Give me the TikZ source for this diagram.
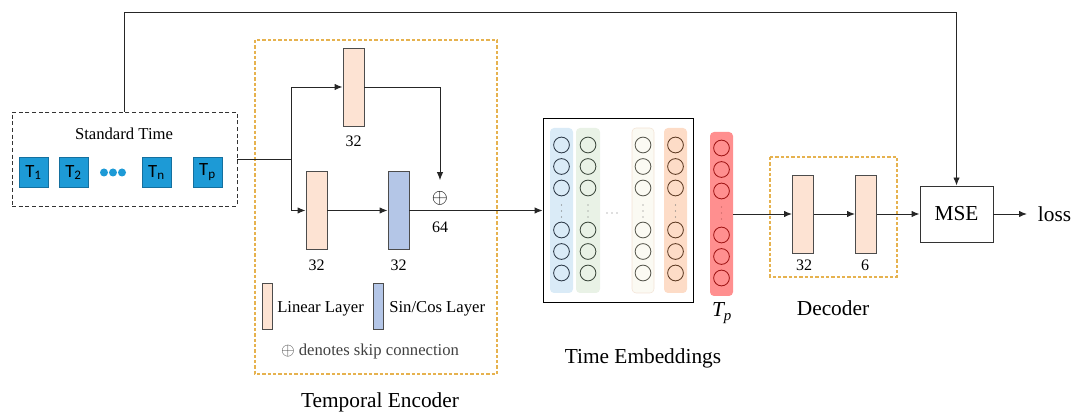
\documentclass[tikz,border=0pt]{standalone}
\usepackage{graphicx}
\usepackage{fontspec}
\setmainfont{Liberation Serif}
\newfontfamily\cali{Carlito}
\usetikzlibrary{arrows.meta,calc}

\definecolor{peach}{HTML}{FDE3D3}
\definecolor{sincos}{HTML}{B4C6E7}
\definecolor{gold}{HTML}{E6B24F}
\definecolor{tblue}{HTML}{1D9AD6}
\definecolor{tblueD}{HTML}{14709F}
\definecolor{colA}{HTML}{DAEBF7}
\definecolor{colB}{HTML}{E9F2E6}
\definecolor{colC}{HTML}{FBFAF3}
\definecolor{colCb}{HTML}{F3E3D6}
\definecolor{colD}{HTML}{FDDCC7}
\definecolor{ringA}{HTML}{2D3A48}
\definecolor{ringB}{HTML}{3E4A3E}
\definecolor{ringC}{HTML}{5A5A50}
\definecolor{ringD}{HTML}{5E3B24}
\definecolor{tpcol}{HTML}{FF8F8F}
\definecolor{tpring}{HTML}{A01515}

\tikzset{
  arr/.style={-{Latex[length=6pt,width=4.8pt]}, line width=0.7pt, draw=black!85},
  wire/.style={line width=0.7pt, draw=black!85},
  layer/.style={draw=black!70, line width=0.7pt, fill=peach, minimum width=15.75pt, minimum height=58.5pt, inner sep=0pt},
  sclayer/.style={layer, fill=sincos},
  tsq/.style={draw=tblueD, line width=0.5pt, fill=tblue, minimum width=21.75pt, minimum height=22.5pt, inner sep=0pt, font=\cali\fontsize{14}{16}\selectfont},
  num/.style={font=\fontsize{12}{14}\selectfont, inner sep=0pt},
  big/.style={font=\fontsize{16}{19}\selectfont, inner sep=0pt},
  small/.style={font=\fontsize{12.5}{15}\selectfont, inner sep=0pt},
  goldbox/.style={draw=gold, line width=0.8pt, dash pattern=on 2.5pt off 1.5pt},
  column/.style={rounded corners=3pt},
  ring/.style={line width=0.65pt},
}

\begin{document}
\begin{tikzpicture}[x=0.75pt,y=-0.75pt]
\useasboundingbox (0,0) rectangle (1074,416);

% ---------- input block ----------
\node[draw=black!80, line width=0.7pt, dash pattern=on 3pt off 2pt, minimum width=168.75pt, minimum height=70.5pt, inner sep=0pt] (std) at (124.5,159) {};
\node[small] (stdlabel) at (124,134) {Standard Time};
\node[tsq] (t1) at (33.5,172.5) {T\textsubscript{1}};
\node[tsq] (t2) at (73.5,172.5) {T\textsubscript{2}};
\node[tsq] (tn) at (156.5,172.5) {T\textsubscript{n}};
\node[tsq] (tp) at (207.5,172.5) {T\textsubscript{p}};
\foreach \dx in {104,113,122}
  \fill[tblue] (\dx,172.5) circle[radius=3pt];

% ---------- temporal encoder ----------
\draw[goldbox] (255,40) rectangle (497,374);
\node[layer] (lin1) at (353.5,87) {};
\node[layer] (lin2) at (316.5,210.5) {};
\node[sclayer] (sc) at (398.5,210.5) {};
\node[num] (l1n) at (353.5,141) {32};
\node[num] (l2n) at (316.5,265) {32};
\node[num] (scn) at (398.5,265) {32};
\node[inner sep=0pt] (plus) at (440,198) {\scalebox{1.55}{$\oplus$}};
\node[num] (n64) at (440,227) {64};

\coordinate (split) at (291,159);
\draw[wire] (std.east) -- (split);
\draw[arr] (split) |- (lin1.west);
\draw[arr] (split) |- (lin2.west);
\draw[arr] (lin2.east) -- (sc.west);
\draw[arr, shorten >=8pt] (lin1.east) -| (plus.north);

% legend
\node[layer, minimum width=7.5pt, minimum height=34.5pt] (leglin) at (267,306) {};
\node[small, anchor=west] (leglintxt) at (277,309) {Linear Layer};
\node[sclayer, minimum width=7.5pt, minimum height=34.5pt] (legsc) at (378,306) {};
\node[small, anchor=west] (legsctxt) at (389,309) {Sin/Cos Layer};
\node[small, text=black!75] (skip) at (370,351) {\scalebox{1.1}{$\oplus$} denotes skip connection};
\node[big] (encname) at (380,402) {Temporal Encoder};

% ---------- time embeddings ----------
\node[draw=black, line width=0.6pt, minimum width=112.5pt, minimum height=138pt, inner sep=0pt] (emb) at (618,210) {};
\draw[arr] (sc.east) -- (sc.east -| emb.west);

\fill[colA, column] (550,128) rectangle (573,293);
\fill[colB, column] (576,128) rectangle (600,293);
\filldraw[fill=colC, draw=colCb, line width=0.4pt, column] (632,128) rectangle (654,293);
\fill[colD, column] (664,128) rectangle (687,293);

\foreach \cx/\rc in {561.5/ringA, 588/ringB, 643/ringC, 675.5/ringD}{
  \foreach \cy in {145,166.5,188,230,251.5,273}
    \draw[\rc, ring] (\cx,\cy) circle[radius=5.9pt];
  \foreach \cy in {205,211,217}
    \fill[black!55] (\cx,\cy) circle[radius=0.55pt];
}
\foreach \cx in {607,612,617}
  \fill[black!55] (\cx,213) circle[radius=0.55pt];

% prediction column
\node[fill=tpcol, rounded corners=3pt, minimum width=17.25pt, minimum height=123pt, inner sep=0pt] (tpcolumn) at (721.5,214) {};
\foreach \cy in {148,169.5,191,235,256.5,278}
  \draw[tpring, ring] (721.5,\cy) circle[radius=5.9pt];
\foreach \cy in {207,213,219}
  \fill[tpring!70] (721.5,\cy) circle[radius=0.55pt];
\node[big] (tplabel) at (722,313) {\itshape T\textsubscript{p}};
\node[big] (embname) at (643,358) {Time Embeddings};

% ---------- decoder ----------
\draw[goldbox] (770,157) rectangle (897,277);
\node[layer] (dec1) at (803,214) {};
\node[layer] (dec2) at (866,214) {};
\node[num] (d1n) at (804,265) {32};
\node[num] (d2n) at (865,265) {6};
\node[big] (decname) at (833,308) {Decoder};

\draw[arr] (tpcolumn.east) -- (dec1.west);
\draw[arr] (dec1.east) -- (dec2.west);

% ---------- loss ----------
\node[draw=black!80, line width=0.7pt, minimum width=54.75pt, minimum height=42pt, inner sep=0pt, font=\fontsize{16}{19}\selectfont] (mse) at (956.5,214) {MSE};
\node[big, anchor=west, inner xsep=8pt] (loss) at (1027,214) {loss};
\draw[arr] (dec2.east) -- (mse.west);
\draw[arr] (mse.east) -- (loss.west);

\coordinate (topleft) at (124.5,12);
\draw[arr] (std.north) -- (topleft) -| (mse.north);
\end{tikzpicture}
\end{document}
